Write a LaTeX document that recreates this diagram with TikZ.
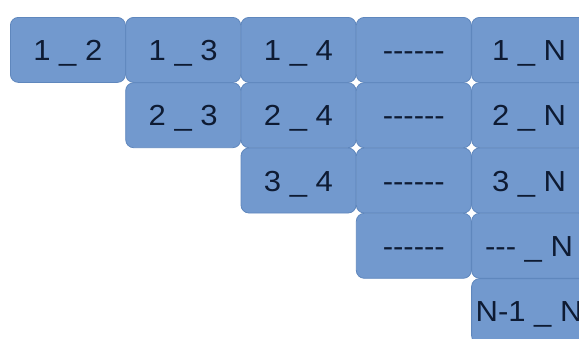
\documentclass[tikz,border=0pt]{standalone}
\usepackage{fontspec}
\setmainfont{Liberation Sans}
\usepackage{graphicx}
\definecolor{boxfill}{HTML}{7299CE}
\definecolor{boxline}{HTML}{5F87BD}
\definecolor{txt}{HTML}{0E1B33}
\tikzset{
  cell/.style={draw=boxline, line width=0.8pt, fill=boxfill, rounded corners=8pt,
    minimum width=115pt, minimum height=65pt, inner sep=0pt, anchor=north west,
    text height=21pt, text depth=0pt,
    text=txt, font=\fontsize{29}{32}\selectfont},
}
\newcommand{\wide}[1]{\scalebox{1.07}[1]{#1}}
\newcommand{\dashes}{\wide{-{}-{}-{}-{}-{}-}}
\begin{document}
\begin{tikzpicture}[x=1pt,y=-1pt]
\useasboundingbox (0,0) rectangle (579,338);
\clip (0,0) rectangle (579,338);
% row 1
\node[cell] (b12) at (10,17) {\wide{1 \_ 2}};
\node[cell] (b13) at (125.3,17) {\wide{1 \_ 3}};
\node[cell] (b14) at (240.6,17) {\wide{1 \_ 4}};
\node[cell] (b1d) at (355.9,17) {\dashes};
\node[cell] (b1N) at (471.2,17) {\wide{1 \_ N}};
% row 2
\node[cell] (b23) at (125.3,82.3) {\wide{2 \_ 3}};
\node[cell] (b24) at (240.6,82.3) {\wide{2 \_ 4}};
\node[cell] (b2d) at (355.9,82.3) {\dashes};
\node[cell] (b2N) at (471.2,82.3) {\wide{2 \_ N}};
% row 3
\node[cell] (b34) at (240.6,147.6) {\wide{3 \_ 4}};
\node[cell] (b3d) at (355.9,147.6) {\dashes};
\node[cell] (b3N) at (471.2,147.6) {\wide{3 \_ N}};
% row 4
\node[cell] (b4d) at (355.9,212.9) {\dashes};
\node[cell] (b4N) at (471.2,212.9) {\wide{-{}-{}- \_ N}};
% row 5
\node[cell] (b5N) at (471.2,278.2) {\wide{N-1 \_ N}};
\end{tikzpicture}
\end{document}
